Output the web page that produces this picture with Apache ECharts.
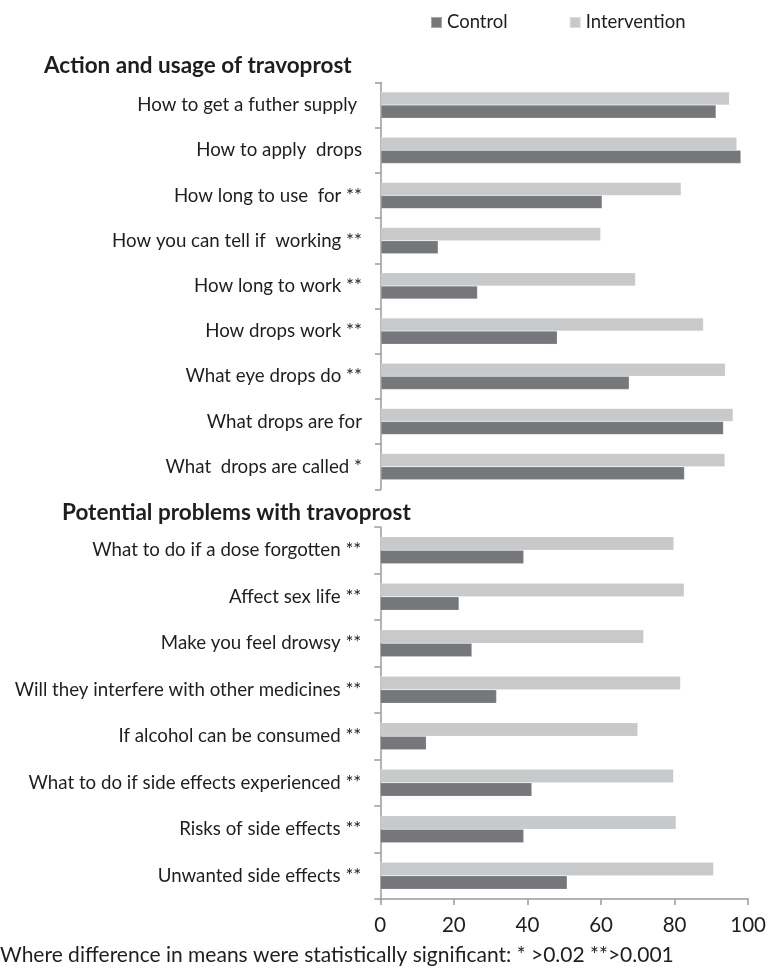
<!DOCTYPE html>
<html>
<head>
<meta charset="utf-8">
<script src="https://cdn.jsdelivr.net/npm/echarts@6/dist/echarts.min.js"></script>
<style>
html,body{margin:0;padding:0;background:#fff;}
#chart{width:769px;height:973px;}
</style>
</head>
<body>
<div id="chart"></div>
<script>
var topCategories = ['How to get a futher supply ', 'How to apply  drops', 'How long to use  for **', 'How you can tell if  working **', 'How long to work **', 'How drops work **', 'What eye drops do **', 'What drops are for', 'What  drops are called *'];
var topControl = [90.3, 97.0, 59.6, 15.4, 26.0, 47.5, 66.9, 92.3, 81.8];
var topIntervention = [93.9, 95.9, 80.9, 59.2, 68.6, 86.9, 92.8, 94.9, 92.7];

var bottomCategories = ['What to do if a dose forgotten **', 'Affect sex life **', 'Make you feel drowsy **', 'Will they interfere with other medicines **', 'If alcohol can be consumed **', 'What to do if side effects experienced **', 'Risks of side effects **', 'Unwanted side effects **'];
var bottomControl = [39.0, 21.4, 24.9, 31.6, 12.5, 41.2, 39.0, 50.8];
var bottomIntervention = [79.8, 82.6, 71.6, 81.6, 70.0, 79.7, 80.4, 90.6];

var seriesNames = ['Control', 'Intervention'];
var sectionTitles = ['Action and usage of travoprost', 'Potential problems with travoprost'];
var footnote = 'Where difference in means were statistically significant: * >0.02 **>0.001';
var xMin = 0, xMax = 100, xInterval = 20;

var FONT = 'Lato';
var darkColor = '#76777b';
var lightColor = '#c8c9cb';
var axisColor = '#9a9a9a';
var textColor = '#1e1e1e';

var chart = echarts.init(document.getElementById('chart'));

function yAxisCfg(gridIndex, cats) {
  return {
    type: 'category', gridIndex: gridIndex, data: cats, inverse: true,
    axisLine: {show: true, lineStyle: {color: axisColor, width: 1.5}},
    axisTick: {show: true, length: 6, lineStyle: {color: axisColor, width: 1.5}},
    axisLabel: {margin: 19, color: textColor, fontSize: 18.7, fontFamily: FONT}
  };
}

function barSeries(name, gi, data, color) {
  return {
    name: name, type: 'bar', xAxisIndex: gi, yAxisIndex: gi, data: data,
    barGap: '0%', barCategoryGap: '42%',
    itemStyle: {color: color, borderColor: 'rgba(255,255,255,0.35)', borderWidth: 0.5},
    emphasis: {disabled: true}
  };
}

chart.setOption({
  animation: false,
  backgroundColor: '#fff',
  textStyle: {fontFamily: FONT},
  title: [
    {text: sectionTitles[0], left: 44, top: 54, padding: 0, textStyle: {fontSize: 22.5, fontWeight: 'bold', color: textColor, fontFamily: FONT}},
    {text: sectionTitles[1], left: 62, top: 501, padding: 0, textStyle: {fontSize: 22.5, fontWeight: 'bold', color: textColor, fontFamily: FONT}},
    {text: footnote, left: 0, top: 945, padding: 0, textStyle: {fontSize: 21, fontWeight: 'normal', color: textColor, fontFamily: FONT}}
  ],
  legend: {
    data: seriesNames, left: 430, top: 13, padding: 0, icon: 'rect', itemWidth: 11, itemHeight: 11, itemGap: 61,
    textStyle: {fontSize: 18.5, color: textColor, fontFamily: FONT}
  },
  grid: [
    {left: 381, top: 82.5, width: 371, height: 406.8, containLabel: false},
    {left: 380.3, top: 527, width: 372, height: 372, containLabel: false}
  ],
  xAxis: [
    {type: 'value', gridIndex: 0, min: xMin, max: xMax, interval: xInterval, show: false},
    {type: 'value', gridIndex: 1, min: xMin, max: xMax, interval: xInterval,
      axisLine: {show: true, lineStyle: {color: axisColor, width: 1.5}},
      axisTick: {show: true, length: 6, lineStyle: {color: axisColor, width: 1.5}},
      splitLine: {show: false},
      axisLabel: {margin: 16, color: textColor, fontSize: 20.5, fontFamily: FONT}
    }
  ],
  yAxis: [yAxisCfg(0, topCategories), yAxisCfg(1, bottomCategories)],
  series: [
    barSeries(seriesNames[1], 0, topIntervention, lightColor),
    barSeries(seriesNames[0], 0, topControl, darkColor),
    barSeries(seriesNames[1], 1, bottomIntervention, lightColor),
    barSeries(seriesNames[0], 1, bottomControl, darkColor)
  ]
});
</script>
</body>
</html>
